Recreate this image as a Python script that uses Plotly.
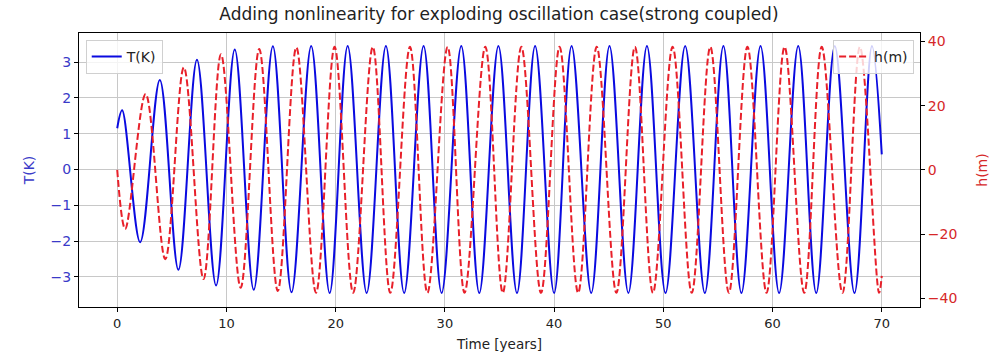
import plotly.graph_objects as go

# Extrema (times in years, values)
T_time = [0.0, 0.45, 2.1, 3.9, 5.6, 7.3, 9.05, 10.76, 12.5, 14.25, 15.96, 17.76, 19.45,
          21.1, 22.84, 24.6, 26.27, 28.05, 29.7, 31.5, 33.15, 34.9, 36.6, 38.26, 40.0,
          41.6, 43.4, 45.07, 46.8, 48.5, 50.2, 52.0, 53.8, 55.5, 57.15, 58.9, 60.6,
          62.35, 64.0, 65.7, 67.5, 69.1, 70.0]
T_vals = [1.15, 1.65, -2.03, 2.5, -2.8, 3.06, -3.24, 3.35, -3.36, 3.44, -3.43, 3.45, -3.45,
          3.45, -3.45, 3.45, -3.45, 3.45, -3.45, 3.45, -3.45, 3.45, -3.45, 3.45, -3.45,
          3.45, -3.45, 3.45, -3.45, 3.45, -3.45, 3.45, -3.45, 3.45, -3.45, 3.45, -3.45,
          3.45, -3.45, 3.45, -3.45, 3.45, 0.42]

h_time = [0.0, 0.73, 2.6, 4.4, 6.1, 7.9, 9.5, 11.3, 13.0, 14.7, 16.4, 18.2, 19.9, 21.6,
          23.4, 25.0, 26.8, 28.4, 30.25, 31.8, 33.7, 35.3, 37.0, 38.8, 40.5, 42.2, 43.9,
          45.7, 47.4, 49.05, 50.85, 52.6, 54.3, 56.0, 57.7, 59.45, 61.1, 62.9, 64.5,
          66.4, 68.0, 69.75, 70.0]
h_vals = [0.0, -18.4, 23.6, -27.8, 31.9, -34.0, 36.0, -36.7, 37.6, -37.7, 38.1, -38.3, 38.3,
          -38.3, 38.3, -38.3, 38.3, -38.3, 38.3, -38.3, 38.3, -38.3, 38.3, -38.3, 38.3,
          -38.3, 38.3, -38.3, 38.3, -38.3, 38.3, -38.3, 38.3, -38.3, 38.3, -38.3, 38.3,
          -38.3, 38.3, -38.3, 38.3, -38.3, -33.0]

x_ticks = [0, 10, 20, 30, 40, 50, 60, 70]
T_ticks = [-3, -2, -1, 0, 1, 2, 3]
h_ticks = [-40, -20, 0, 20, 40]

BLUE = "#0a0ae0"
RED = "#e8202a"
TICK_BLUE = "#3a3ac8"
TICK_RED = "#d62728"
FONT = "DejaVu Sans"

fig = go.Figure()
fig.add_trace(go.Scatter(x=T_time, y=T_vals, mode="lines", name="T(K)", showlegend=True,
                         line=dict(color=BLUE, width=2, shape="spline", smoothing=1.0),
                         yaxis="y", legend="legend"))
fig.add_trace(go.Scatter(x=h_time, y=h_vals, mode="lines", name="h(m)", showlegend=True,
                         line=dict(color=RED, width=2, dash="7px,3px", shape="spline", smoothing=1.0),
                         yaxis="y2", legend="legend2"))

fig.update_layout(
    width=990, height=361,
    showlegend=True,
    margin=dict(l=79, r=70, t=33, b=54),
    paper_bgcolor="white", plot_bgcolor="white",
    font=dict(family=FONT, size=12, color="#222"),
    title=dict(text="Adding nonlinearity for exploding oscillation case(strong coupled)",
               x=0.504, xanchor="center", y=0.96, yanchor="middle",
               font=dict(size=17, color="#222")),
    xaxis=dict(range=[-3.5, 73.5], tickvals=x_ticks, showgrid=True, gridcolor="#c8c8c8",
               gridwidth=1, zeroline=False, showline=True, linecolor="black", linewidth=1,
               mirror=True, ticks="outside", ticklen=4, tickcolor="black", automargin=False,
               title=dict(text="Time [years]", font=dict(size=13.5), standoff=9),
               tickfont=dict(size=13)),
    yaxis=dict(range=[-3.84, 3.81], tickvals=T_ticks, showgrid=True, gridcolor="#c8c8c8",
               gridwidth=1, zeroline=False, showline=True, linecolor="black", linewidth=1,
               mirror=True, ticks="outside", ticklen=4, tickcolor="black", automargin=False,
               tickfont=dict(size=14, color=TICK_BLUE),
               title=dict(text="T(K)", font=dict(size=14, color=TICK_BLUE), standoff=12)),
    yaxis2=dict(range=[-42.7, 42.6], tickvals=h_ticks, overlaying="y", side="right",
                showgrid=False, zeroline=False, showline=False, ticks="outside",
                ticklen=4, tickcolor="black", automargin=False,
                tickfont=dict(size=14, color=TICK_RED),
                title=dict(text="h(m)", font=dict(size=14, color=TICK_RED), standoff=20)),
    legend=dict(x=0.008, y=0.975, xanchor="left", yanchor="top", visible=True,
                bgcolor="rgba(255,255,255,0.8)", bordercolor="#d0d0d0", borderwidth=1,
                font=dict(size=14, color="#222")),
    legend2=dict(x=0.993, y=0.975, xanchor="right", yanchor="top", visible=True,
                 bgcolor="rgba(255,255,255,0.8)", bordercolor="#d0d0d0", borderwidth=1,
                 font=dict(size=14, color="#222")),
)

fig.write_html("out.html")
